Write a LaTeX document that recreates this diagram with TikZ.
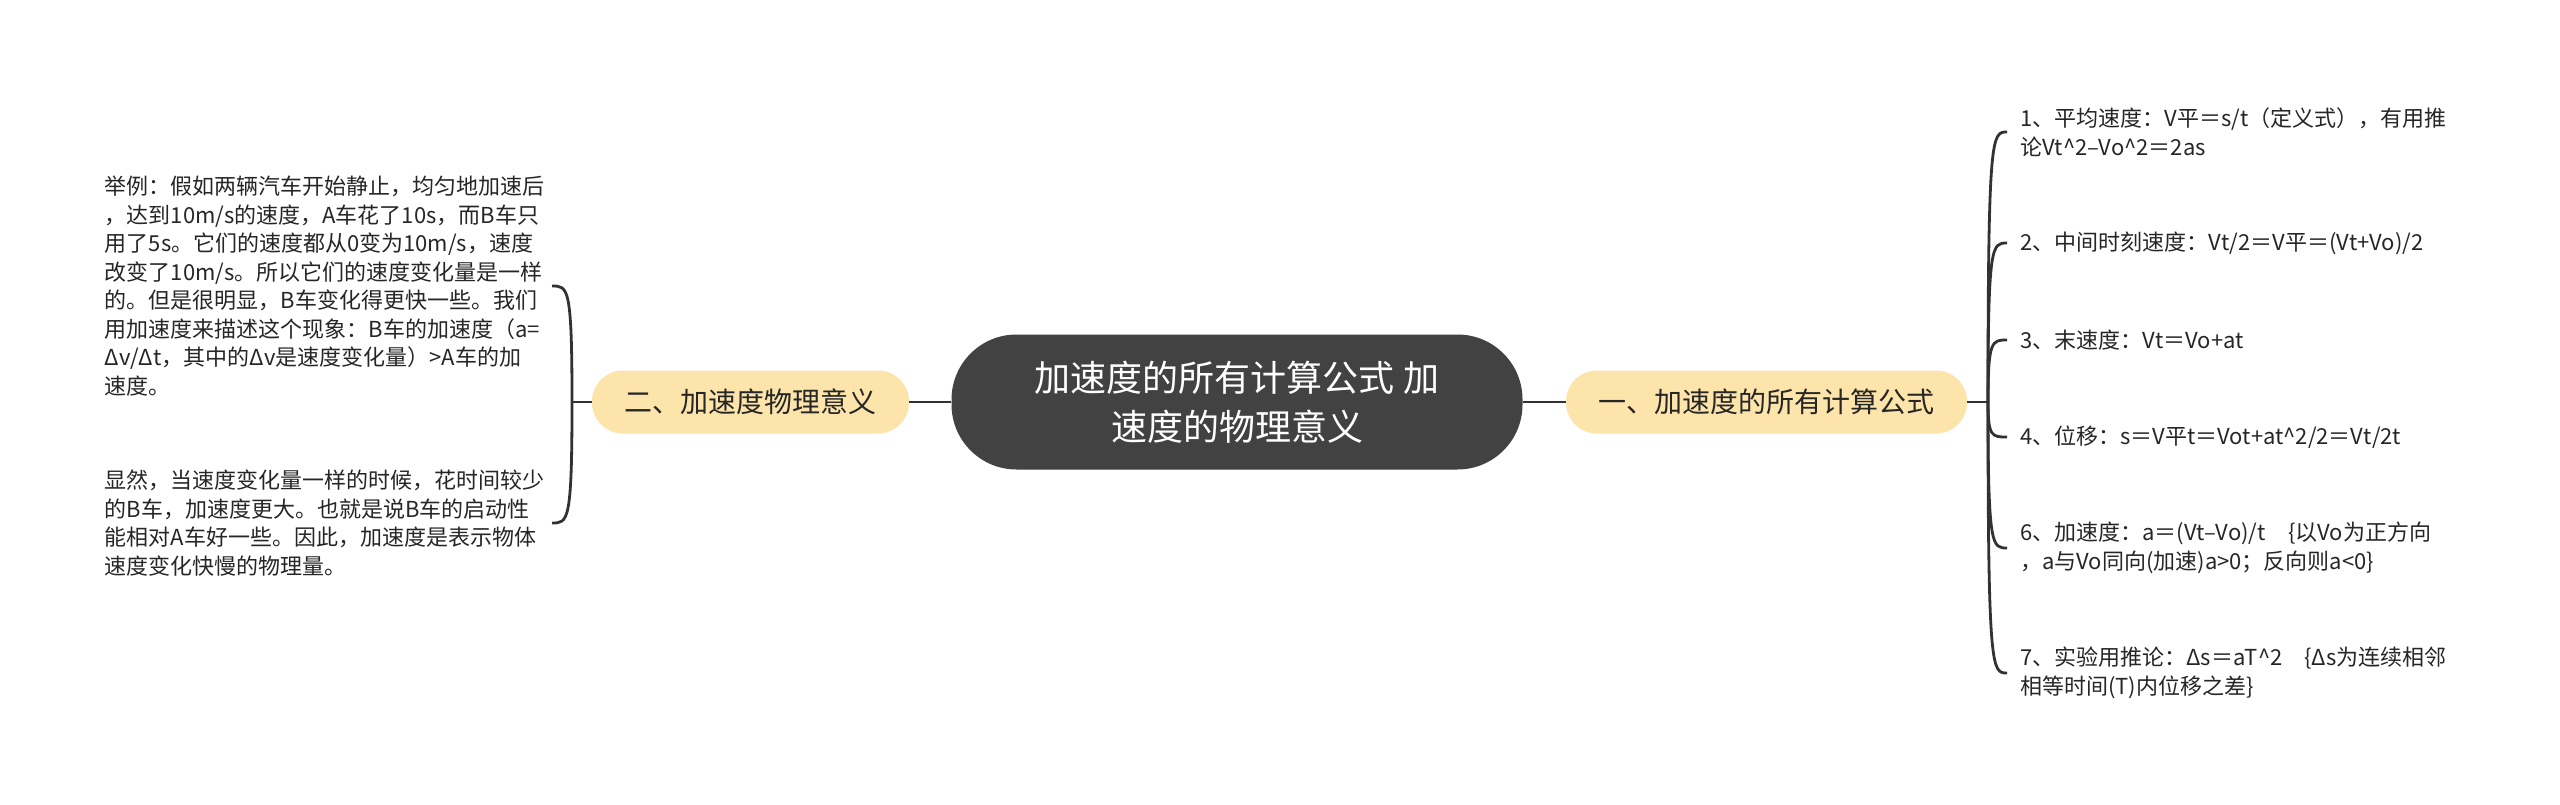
\documentclass[tikz,border=0pt]{standalone}
\usepackage{fontspec}
\setmainfont{Noto Sans CJK SC}
\definecolor{rootc}{RGB}{66,66,66}
\definecolor{branchc}{RGB}{252,228,170}
\definecolor{linec}{RGB}{50,50,50}
\definecolor{textc}{RGB}{38,38,38}
\begin{document}
\begin{tikzpicture}[x=1pt,y=-1pt,
  conn/.style={draw=linec, line width=2.8pt},
  rootbox/.style={fill=rootc, rounded corners=65pt, minimum width=571pt, minimum height=135pt,
    text=white, font=\fontsize{36}{49}\selectfont, align=center, inner sep=0pt},
  branchbox/.style={fill=branchc, rounded corners=31pt, minimum height=63pt,
    font=\fontsize{28}{34}\selectfont, text=textc, inner sep=0pt},
  leafr/.style={font=\fontsize{22}{28.5}\selectfont, text=textc, align=left,
    inner xsep=13pt, inner ysep=2pt, anchor=west},
  leafl/.style={font=\fontsize{22}{28.5}\selectfont, text=textc, align=left,
    text width=443pt, inner xsep=4pt, inner ysep=2pt, anchor=east}]
\useasboundingbox[fill=white] (0,0) rectangle (2560,805);

\node[rootbox] (c) at (1237,402) {加速度的所有计算公式 加\\速度的物理意义};
\node[branchbox, minimum width=401pt] (r) at (1766.5,402) {一、加速度的所有计算公式};
\node[branchbox, minimum width=317pt] (l) at (750.5,402) {二、加速度物理意义};

\node[leafr] (r1) at (2007,132) {1、平均速度：V平＝s/t（定义式），有用推\\论Vt\textasciicircum 2–Vo\textasciicircum 2＝2as};
\node[leafr] (r2) at (2007,243) {2、中间时刻速度：Vt/2＝V平＝(Vt+Vo)/2};
\node[leafr] (r3) at (2007,340) {3、末速度：Vt＝Vo+at};
\node[leafr] (r4) at (2007,437) {4、位移：s＝V平t＝Vot+at\textasciicircum 2/2＝Vt/2t};
\node[leafr] (r6) at (2007,548) {6、加速度：a＝(Vt–Vo)/t\quad\{以Vo为正方向\\，a与Vo同向(加速)a>0；反向则a<0\}};
\node[leafr] (r7) at (2007,673) {7、实验用推论：Δs＝aT\textasciicircum 2\quad\{Δs为连续相邻\\相等时间(T)内位移之差\}};

\node[leafl] (l1) at (552,286) {举例：假如两辆汽车开始静止，均匀地加速后\\，达到10m/s的速度，A车花了10s，而B车只\\用了5s。它们的速度都从0变为10m/s，速度\\改变了10m/s。所以它们的速度变化量是一样\\的。但是很明显，B车变化得更快一些。我们\\用加速度来描述这个现象：B车的加速度（a=\\Δv/Δt，其中的Δv是速度变化量）>A车的加\\速度。};
\node[leafl] (l2) at (552,523) {显然，当速度变化量一样的时候，花时间较少\\的B车，加速度更大。也就是说B车的启动性\\能相对A车好一些。因此，加速度是表示物体\\速度变化快慢的物理量。};

\coordinate (rj) at (1988,402);
\coordinate (lj) at (572,402);

\draw[conn] (c.west) -- (l.east);
\draw[conn] (c.east) -- (r.west);
\draw[conn] (r.east) -- (rj);
\draw[conn] (l.west) -- (lj);

\foreach \n/\yy in {r1/132,r2/243,r3/340,r4/437,r6/548,r7/673}{
  \draw[conn] (rj) .. controls (1988,\yy) and (1992,\yy) .. (\n.west);
}
\foreach \n/\yy in {l1/286,l2/523}{
  \draw[conn] (lj) .. controls (572,\yy) and (568,\yy) .. (\n.east);
}
\end{tikzpicture}
\end{document}
